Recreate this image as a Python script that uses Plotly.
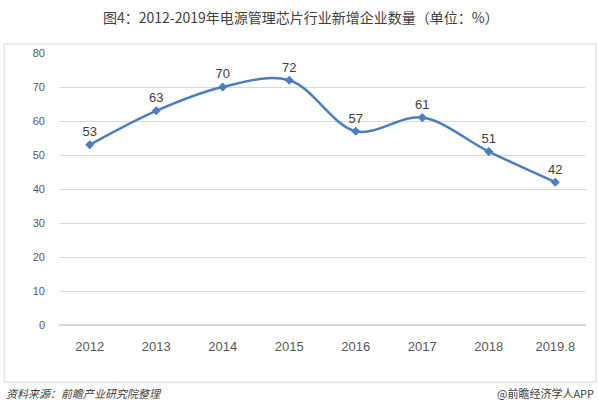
import plotly.graph_objects as go

years = ["2012", "2013", "2014", "2015", "2016", "2017", "2018", "2019.8"]
counts = [53, 63, 70, 72, 57, 61, 51, 42]

title = "图4：2012-2019年电源管理芯片行业新增企业数量（单位：%）"
source = "资料来源：前瞻产业研究院整理"
brand = "@前瞻经济学人APP"

fig = go.Figure(go.Scatter(
    x=years,
    y=counts,
    mode="lines+markers+text",
    line=dict(color="#4a7ec0", width=2.5, shape="spline", smoothing=1),
    marker=dict(symbol="diamond", size=7, color="#4a7ec0"),
    text=[str(v) for v in counts],
    textposition="top center",
    textfont=dict(family="Liberation Sans, Arial", size=13, color="#404040"),
    cliponaxis=False,
    hoverinfo="skip",
))

fig.update_layout(
    width=599, height=420,
    margin=dict(l=59, r=13, t=53, b=95, autoexpand=False),
    paper_bgcolor="white", plot_bgcolor="white",
    showlegend=False,
    font=dict(family="Liberation Sans, Arial", color="#595959"),
    xaxis=dict(type="category", showgrid=False, zeroline=False, showline=False,
               tickfont=dict(size=13, color="#595959"), ticks="",
               ticklabelstandoff=12, automargin=False),
    yaxis=dict(range=[0, 80], dtick=10, showgrid=True, gridcolor="#d9d9d9",
               gridwidth=1, zeroline=True, zerolinecolor="#d9d9d9",
               tickfont=dict(size=11, color="#595959"), ticks="",
               ticklabelstandoff=13, automargin=False),
    shapes=[dict(type="rect", xref="paper", yref="paper",
                 x0=-0.104, x1=1.019, y0=-0.21, y1=1.033,
                 line=dict(color="#d9d9d9", width=1), layer="below")],
    annotations=[
        dict(text=title, xref="paper", yref="paper", x=0.46, y=1.132,
             showarrow=False, xanchor="center", yanchor="middle",
             font=dict(family="Noto Sans CJK SC", size=14, color="#404040")),
        dict(text="<i>" + source + "</i>", xref="paper", yref="paper",
             x=-0.104, y=-0.25, showarrow=False, xanchor="left", yanchor="middle",
             font=dict(family="Noto Sans CJK SC", size=11, color="#404040")),
        dict(text=brand, xref="paper", yref="paper", x=1.019, y=-0.25,
             showarrow=False, xanchor="right", yanchor="middle",
             font=dict(family="Noto Sans CJK SC", size=11, color="#404040")),
    ],
)

# page body has a default 8px margin; drop it so the figure sits at 0,0
fig.write_html("out.html", config={"displayModeBar": False},
               post_script="document.body.style.margin='0';")
